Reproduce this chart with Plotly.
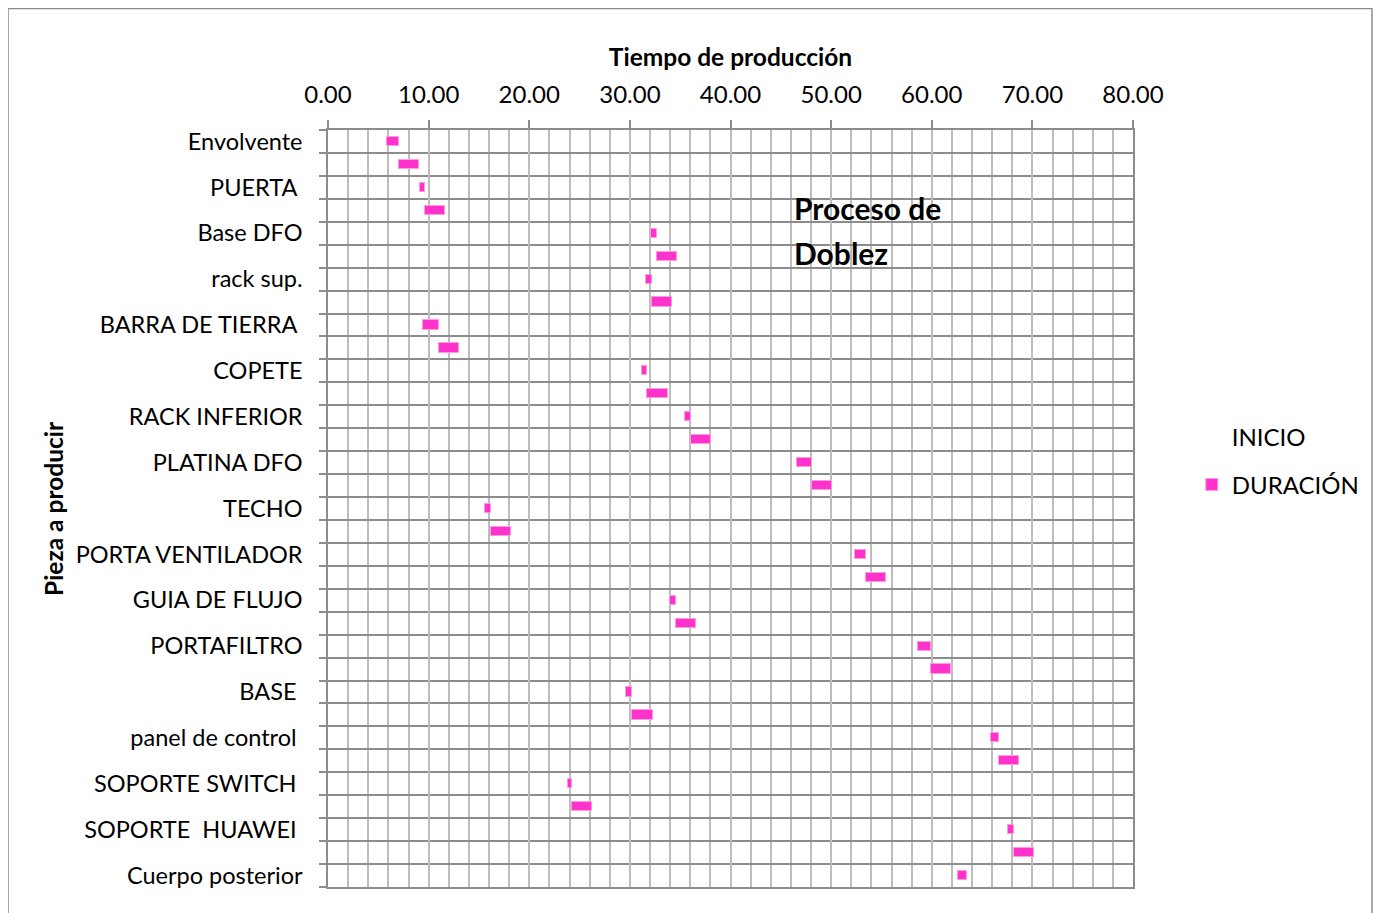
import plotly.graph_objects as go

# ---- data ----
filas = list(range(33))
inicio = [5.9, 7.05, 9.1, 9.65, 32.05, 32.65, 31.6, 32.2, 9.45, 11.0,
          31.2, 31.75, 35.5, 36.05, 46.65, 48.1, 15.6, 16.2, 52.4, 53.45,
          34.0, 34.6, 58.65, 59.9, 29.65, 30.25, 65.9, 66.7, 23.9, 24.25,
          67.6, 68.2, 62.6]
duracion = [1.15, 2.0, 0.55, 2.0, 0.6, 2.0, 0.6, 2.0, 1.55, 2.0,
            0.55, 2.0, 0.55, 2.0, 1.45, 2.0, 0.6, 2.0, 1.05, 2.0,
            0.6, 2.0, 1.25, 2.0, 0.6, 2.0, 0.8, 2.0, 0.35, 1.95,
            0.6, 2.0, 0.9]
etiquetas = ["Envolvente", "PUERTA\u00a0", "Base DFO", "rack sup.", "BARRA DE TIERRA\u00a0",
             "COPETE", "RACK INFERIOR", "PLATINA DFO", "TECHO", "PORTA VENTILADOR",
             "GUIA DE FLUJO", "PORTAFILTRO", "BASE\u00a0", "panel de control\u00a0",
             "SOPORTE SWITCH\u00a0", "SOPORTE\u00a0\u00a0HUAWEI\u00a0", "Cuerpo posterior"]
x_ticks = [0, 10, 20, 30, 40, 50, 60, 70, 80]

FONT = "Lato"
FS = 24
PINK = "#ff33cc"

fig = go.Figure()
fig.add_trace(go.Bar(
    name="INICIO", y=filas, x=inicio, orientation="h", width=0.4,
    marker=dict(color="rgba(0,0,0,0)", line=dict(width=0)),
    legendgroup="a", hoverinfo="skip"))
fig.add_trace(go.Bar(
    name="DURACIÓN", y=filas, x=duracion, orientation="h", width=0.4,
    marker=dict(color=PINK, line=dict(color="#ff9be3", width=1)),
    legendgroup="b"))

grid_y = [f - 0.5 for f in filas] + [filas[-1] + 0.5]

fig.update_layout(
    width=1381, height=913,
    margin=dict(l=320, r=256, t=122, b=34),
    paper_bgcolor="white", plot_bgcolor="white",
    barmode="stack", bargap=0,
    font=dict(family=FONT, size=FS, color="black"),
    showlegend=True,
    legend=dict(x=1.073, xanchor="left", y=0.6246, yanchor="top",
                font=dict(family=FONT, size=FS), traceorder="grouped",
                tracegroupgap=14, bgcolor="rgba(0,0,0,0)"),
    xaxis=dict(
        side="top", range=[0, 80], tickvals=x_ticks, tickformat=".2f",
        ticks="outside", ticklen=8, tickcolor="#8c8c8c", tickwidth=1.5,
        ticklabelstandoff=8,
        showgrid=True, gridcolor="#bdbdbd", gridwidth=2,
        minor=dict(dtick=2, showgrid=True, gridcolor="#bdbdbd", gridwidth=2),
        showline=True, linecolor="#8c8c8c", linewidth=1.5, mirror=True,
        zeroline=False,
        title=dict(text="<b>Tiempo de producción</b>", standoff=5,
                   font=dict(family=FONT, size=24.5)),
    ),
    yaxis=dict(
        range=[filas[-1] + 0.5, -0.5], autorange=False,
        tickmode="array", tickvals=filas[::2], ticktext=etiquetas,
        tickfont=dict(family=FONT, size=23.5),
        ticks="", showgrid=False, ticklabelstandoff=19,
        minor=dict(tickmode="array", tickvals=grid_y, ticks="outside",
                   ticklen=7, tickcolor="#8c8c8c", tickwidth=1.5,
                   showgrid=True, gridcolor="#8c8c8c", gridwidth=1.5),
        showline=True, linecolor="#8c8c8c", linewidth=1.5, mirror=True,
        zeroline=False,
    ),
)

# y axis title (placed to match the reference position)
fig.add_annotation(x=-0.341, y=0.5, xref="paper", yref="paper",
                   text="<b>Pieza a producir</b>", textangle=-90,
                   showarrow=False, xanchor="center", yanchor="middle",
                   font=dict(family=FONT, size=24.5, color="black"))

fig.add_annotation(x=46.1, y=2.88, xref="x", yref="y", text="<b>Proceso de</b>",
                   showarrow=False, xanchor="left", yanchor="middle",
                   font=dict(family=FONT, size=30, color="black"))
fig.add_annotation(x=46.1, y=4.86, xref="x", yref="y", text="<b>Doblez</b>",
                   showarrow=False, xanchor="left", yanchor="middle",
                   font=dict(family=FONT, size=30, color="black"))

# outer chart frame
fig.add_shape(type="rect", xref="paper", yref="paper",
              x0=-0.3975, x1=1.2969, y0=-0.2, y1=1.1605,
              line=dict(color="#8c8c8c", width=1.5), layer="below")

fig.write_html("out.html")
